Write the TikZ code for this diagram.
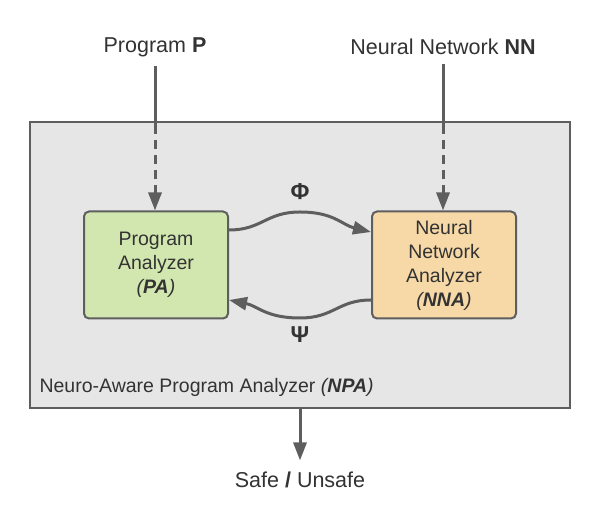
\documentclass[tikz,border=0pt]{standalone}
\usepackage{fontspec}
\setmainfont{Liberation Sans}
\usetikzlibrary{arrows.meta}
\definecolor{linegray}{HTML}{5E5E5E}
\definecolor{textgray}{HTML}{333333}
\definecolor{boxgray}{HTML}{E6E6E6}
\definecolor{pagreen}{HTML}{D2E7AF}
\definecolor{nnaorange}{HTML}{F7D9A7}
\begin{document}
\begin{tikzpicture}[x=1pt,y=1pt,
  every node/.style={text=textgray},
  outer/.style={draw=linegray, line width=2pt, fill=boxgray, minimum width=540pt, minimum height=286pt},
  analyzer/.style={draw=linegray, line width=2pt, rounded corners=5pt, minimum width=144pt, minimum height=107pt,
    align=center, font=\fontsize{19.5}{24}\selectfont},
  biglabel/.style={font=\fontsize{21.5}{26}\selectfont},
  greek/.style={font=\fontsize{23}{26}\selectfont\bfseries},
  link/.style={draw=linegray, line width=3pt, -{Triangle[length=18pt,width=13pt]}},
  feed/.style={draw=linegray, line width=3pt}
]
  \useasboundingbox (0,0) rectangle (596,518);
  \fill [white] (0,0) rectangle (596,518);

  \node [outer] (npa) at (300,253) {};
  \node [anchor=west, font=\fontsize{19.5}{24}\selectfont] (npalabel) at (36,131)
    {Neuro-Aware Program Analyzer \textit{(\textbf{NPA})}};

  \node [analyzer, fill=pagreen] (pa) at (156,253) {Program\\Analyzer\\\textit{(\textbf{PA})}};
  \node [analyzer, fill=nnaorange] (nna) at (444,253) {Neural\\Network\\Analyzer\\\textit{(\textbf{NNA})}};

  \node [biglabel] (prog) at (155,471) {Program \textbf{P}};
  \node [biglabel] (nn) at (443,471) {Neural Network \textbf{NN}};
  \node [biglabel] (verdict) at (300,38) {Safe \textbf{/} Unsafe};

  % inputs: solid outside, dashed inside
  \coordinate (progin) at (prog |- npa.north);
  \coordinate (nnin) at (nn |- npa.north);
  \draw [feed, shorten <=6pt] (prog.south) -- ([yshift=-4pt]progin);
  \draw [link, dash pattern=on 9pt off 6pt] ([yshift=-4pt]progin) -- (progin |- pa.north);
  \draw [feed, shorten <=6pt] (nn.south) -- ([yshift=-4pt]nnin);
  \draw [link, dash pattern=on 9pt off 6pt] ([yshift=-4pt]nnin) -- (nnin |- nna.north);

  % exchange between the analyzers
  \coordinate (phitop) at (300,306);
  \coordinate (psibot) at (300,200);
  \draw [link] ([yshift=35pt]pa.east) .. controls (262,288) and (266,306) .. (phitop)
    .. controls (334,306) and (342,293) .. ([yshift=33pt]nna.west);
  \draw [link] ([yshift=-35pt]nna.west) .. controls (338,218) and (334,200) .. (psibot)
    .. controls (266,200) and (258,212) .. ([yshift=-35pt]pa.east);
  \node [greek] (phi) at (phitop |- 0,326) {Φ};
  \node [greek] (psi) at (psibot |- 0,183) {Ψ};

  % result
  \draw [link] (npa.south) -- ([yshift=8pt]verdict.north);
\end{tikzpicture}
\end{document}
